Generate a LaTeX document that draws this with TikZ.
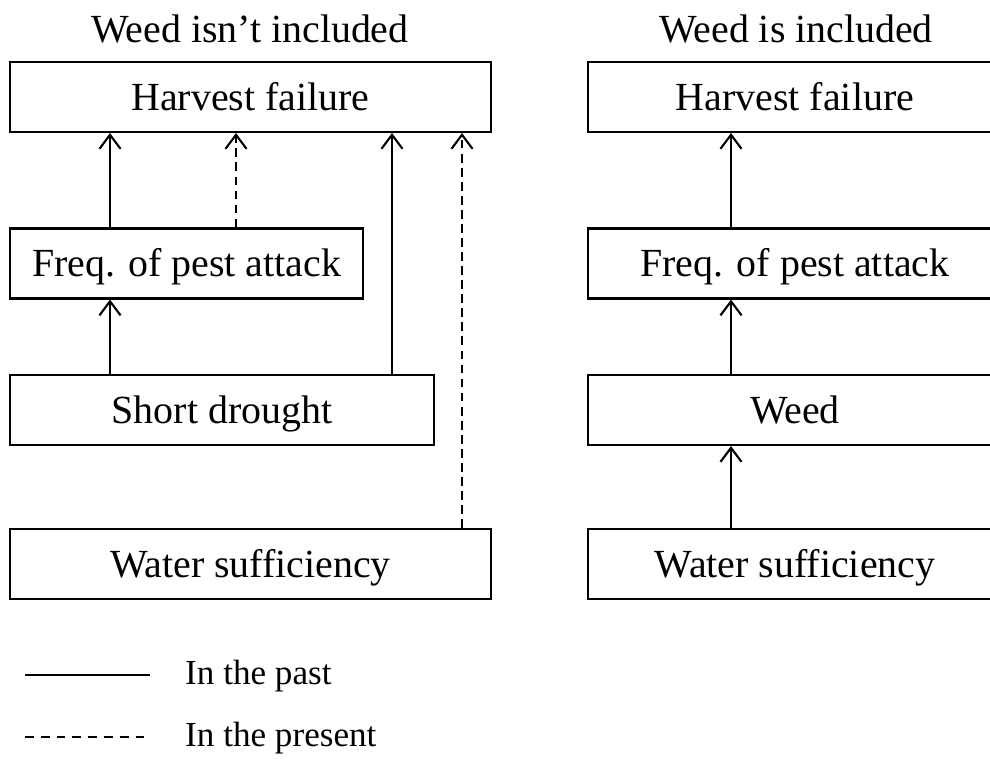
\documentclass[tikz,border=0pt]{standalone}
\usepackage{fontspec}
\setmainfont{Liberation Serif}
\usetikzlibrary{arrows.meta}
\tikzset{
  box/.style={draw, line width=1.2pt, minimum height=1.4cm, inner sep=0pt,
    text height=15.4pt, text depth=0.5pt, font=\fontsize{22.7}{27}\selectfont},
  past/.style={line width=1.2pt, -{Straight Barb[length=8pt,width=12pt,line width=1.2pt]}},
  present/.style={past, dash pattern=on 5pt off 3pt},
  title/.style={anchor=base, font=\fontsize{22.7}{27}\selectfont},
  legend/.style={anchor=base west, font=\fontsize{20}{24}\selectfont}
}
\begin{document}
\begin{tikzpicture}[x=0.02cm, y=-0.02cm]
\useasboundingbox (0,0) rectangle (990,765);
\clip (0,0) rectangle (990,765);
% left: weed not included
\node[title] (t1) at (250,42) {Weed isn’t included};
\node[box, minimum width=9.62cm] (hf1) at (250.5,97) {Harvest failure};
\node[box, minimum width=7.06cm] (fpa1) at (186.5,263.5) {Freq. of pest attack};
\node[box, minimum width=8.48cm] (sd1) at (222,410) {Short drought};
\node[box, minimum width=9.62cm] (ws1) at (250.5,564) {Water sufficiency};
% right: weed included
\node[title] (t2) at (796,42) {Weed is included};
\node[box, minimum width=8.28cm] (hf2) at (795,97) {Harvest failure};
\node[box, minimum width=8.28cm] (fpa2) at (795,263.5) {Freq. of pest attack};
\node[box, minimum width=8.28cm] (weed) at (795,410) {Weed};
\node[box, minimum width=8.28cm] (ws2) at (795,564) {Water sufficiency};
% arrow columns
\coordinate (c1) at (110,0);
\coordinate (c2) at (236,0);
\coordinate (c3) at (392,0);
\coordinate (c4) at (462,0);
\coordinate (c5) at (731,0);
\draw[past] (fpa1.north -| c1) -- (hf1.south -| c1);
\draw[present] (fpa1.north -| c2) -- (hf1.south -| c2);
\draw[past] (sd1.north -| c3) -- (hf1.south -| c3);
\draw[present] (ws1.north -| c4) -- (hf1.south -| c4);
\draw[past] (sd1.north -| c1) -- (fpa1.south -| c1);
\draw[past] (fpa2.north -| c5) -- (hf2.south -| c5);
\draw[past] (weed.north -| c5) -- (fpa2.south -| c5);
\draw[past] (ws2.north -| c5) -- (weed.south -| c5);
% legend
\coordinate (la) at (25,675);
\coordinate (lb) at (150,675);
\coordinate (lc) at (25,737);
\coordinate (ld) at (145,737);
\draw[line width=1.2pt] (la) -- (lb);
\draw[line width=1.2pt, dash pattern=on 5pt off 4pt] (lc) -- (ld);
\node[legend] (l1) at (179,684) {In the past};
\node[legend] (l2) at (179,746) {In the present};
\end{tikzpicture}
\end{document}
